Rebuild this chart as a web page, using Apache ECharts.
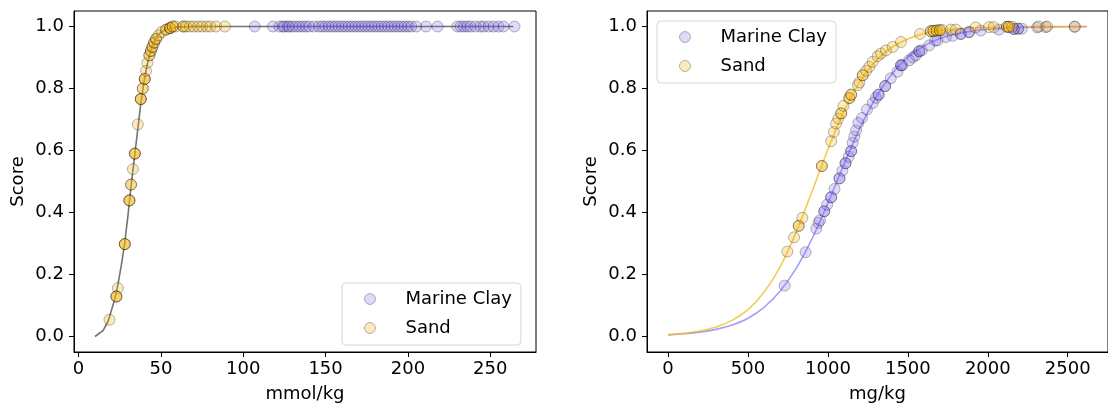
<!DOCTYPE html>
<html>
<head>
<meta charset="utf-8">
<script src="https://cdn.jsdelivr.net/npm/echarts@6/dist/echarts.min.js"></script>
<style>
  html, body { margin: 0; padding: 0; background: #fff; }
  #chart { width: 1108px; height: 408px; }
</style>
</head>
<body>
<div id="chart"></div>
<script>
// left panel: mmol/kg
var leftCurve = [[10, 0], [15, 0.02], [18, 0.05], [20, 0.085], [22, 0.12], [24, 0.17], [26, 0.23],
    [28, 0.30], [30, 0.39], [32, 0.49], [34, 0.58], [36, 0.67], [38, 0.76], [40, 0.83], [42, 0.885],
    [44, 0.925], [46, 0.952], [48, 0.97], [50, 0.981], [52, 0.988], [55, 0.994], [60, 0.998],
    [70, 1], [264, 1]];
var leftSand = [[18.8, 0.054], [23.9, 0.156], [23.0, 0.129], [23.0, 0.129], [23.0, 0.129],
    [28.1, 0.298], [28.1, 0.298], [28.1, 0.298], [30.9, 0.439], [30.9, 0.439], [30.9, 0.439],
    [31.9, 0.49], [31.9, 0.49], [33, 0.54], [34.2, 0.59], [34.2, 0.59], [34.2, 0.59], [36, 0.684],
    [37.8, 0.766], [37.8, 0.766], [37.8, 0.766], [39, 0.80], [39, 0.80], [40.2, 0.831], [40.2, 0.831],
    [40.2, 0.831], [41, 0.857], [41.8, 0.883], [43, 0.907], [43, 0.907], [43.9, 0.921], [43.9, 0.921],
    [44.8, 0.934], [44.8, 0.934], [45.9, 0.948], [45.9, 0.948], [47.1, 0.96], [47.1, 0.96],
    [48.5, 0.971], [50.5, 0.982], [53.2, 0.99], [53.2, 0.99], [55.6, 0.995], [55.6, 0.995],
    [55.6, 0.995], [57.2, 1], [57.2, 1], [59, 1], [63.6, 1], [63.6, 1], [65.3, 1], [67.7, 1],
    [70, 1], [72.7, 1], [75, 1], [77.8, 1], [80, 1], [83.5, 1], [88.9, 1]];
var leftClay = [[107, 1], [118, 1], [122, 1], [124, 1], [125, 1], [127, 1], [128, 1], [130, 1],
    [132, 1], [134, 1], [136, 1], [138, 1], [140, 1], [143, 1], [146, 1], [148, 1], [150, 1],
    [152, 1], [154, 1], [156, 1], [158, 1], [160, 1], [162, 1], [164, 1], [166, 1], [168, 1],
    [170, 1], [172, 1], [174, 1], [176, 1], [178, 1], [180, 1], [182, 1], [184, 1], [186, 1],
    [188, 1], [190, 1], [192, 1], [194, 1], [196, 1], [198, 1], [200, 1], [202, 1], [205, 1],
    [211, 1], [218, 1], [230, 1], [232, 1], [234, 1], [236, 1], [238, 1], [241, 1], [244, 1],
    [246, 1], [249, 1], [252, 1], [255, 1], [258, 1], [264.7, 1]];

// right panel: mg/kg
var rightSandCurve = [[0, 0.006], [100, 0.010], [200, 0.018], [300, 0.031], [400, 0.052],
    [500, 0.087], [600, 0.143], [700, 0.224], [800, 0.335], [900, 0.467], [1000, 0.604],
    [1100, 0.726], [1200, 0.822], [1300, 0.889], [1400, 0.933], [1500, 0.960], [1600, 0.977],
    [1700, 0.987], [1800, 0.992], [1900, 0.9955], [2000, 0.997], [2200, 0.999], [2400, 0.9997],
    [2620, 0.9999]];
var rightClayCurve = [[0, 0.005], [100, 0.009], [200, 0.014], [300, 0.023], [400, 0.037],
    [500, 0.059], [600, 0.094], [700, 0.146], [800, 0.219], [900, 0.315], [1000, 0.431],
    [1100, 0.555], [1200, 0.672], [1300, 0.771], [1400, 0.847], [1500, 0.901], [1600, 0.937],
    [1700, 0.961], [1800, 0.976], [1900, 0.985], [2000, 0.991], [2100, 0.994], [2200, 0.997],
    [2400, 0.9987], [2620, 0.9995]];
var rightSand = [[746, 0.274], [788, 0.32], [817, 0.357], [817, 0.357], [840, 0.383],
    [962, 0.55], [962, 0.55], [1020, 0.63], [1037, 0.66], [1051, 0.687], [1065, 0.703],
    [1083, 0.72], [1083, 0.72], [1097, 0.744], [1134, 0.769], [1134, 0.769], [1145, 0.78],
    [1145, 0.78], [1187, 0.811], [1197, 0.82], [1218, 0.843], [1218, 0.843], [1239, 0.857],
    [1259, 0.87], [1280, 0.886], [1311, 0.904], [1332, 0.913], [1363, 0.923], [1405, 0.934],
    [1457, 0.95], [1576, 0.976], [1644, 0.985], [1644, 0.985], [1660, 0.986], [1660, 0.986],
    [1680, 0.987], [1680, 0.987], [1700, 0.988], [1700, 0.988], [1716, 0.989], [1769, 0.99],
    [1800, 0.99], [1924, 0.997], [2007, 0.998], [2037, 0.998], [2120, 0.999], [2120, 0.999],
    [2132, 0.999], [2132, 0.999], [2153, 0.999], [2319, 1], [2371, 1], [2544, 1]];
var rightClay = [[729, 0.164], [860, 0.272], [927, 0.348], [941, 0.367], [950, 0.375],
    [977, 0.404], [977, 0.404], [995, 0.425], [1020, 0.449], [1020, 0.449], [1041, 0.476],
    [1072, 0.51], [1072, 0.51], [1090, 0.535], [1110, 0.559], [1110, 0.559], [1130, 0.58],
    [1145, 0.598], [1145, 0.598], [1155, 0.625], [1165, 0.645], [1176, 0.665], [1190, 0.689],
    [1213, 0.705], [1244, 0.732], [1280, 0.753], [1300, 0.77], [1317, 0.78], [1317, 0.78],
    [1358, 0.808], [1358, 0.808], [1393, 0.833], [1435, 0.854], [1457, 0.875], [1457, 0.875],
    [1466, 0.875], [1508, 0.891], [1530, 0.9], [1550, 0.907], [1571, 0.92], [1571, 0.92],
    [1587, 0.923], [1633, 0.939], [1671, 0.955], [1685, 0.955], [1738, 0.966], [1780, 0.97],
    [1831, 0.976], [1831, 0.976], [1883, 0.982], [1883, 0.982], [1956, 0.987], [2070, 0.99],
    [2163, 0.992], [2163, 0.992], [2190, 0.993], [2190, 0.993], [2213, 0.993], [2309, 0.997],
    [2362, 0.998], [2544, 0.999]];

var FONT = 'DejaVu Sans';
var FS = 18;
var clayFill = 'rgba(123,104,238,0.3)';
var sandFill = 'rgba(240,180,20,0.35)';
var edge = 'rgba(0,0,0,0.35)';

function xAxisOf(grid, name, min, max) {
    return {
        gridIndex: grid, type: 'value', min: min, max: max, splitNumber: 5,
        name: name, nameLocation: 'middle', nameGap: 33,
        nameTextStyle: {fontFamily: FONT, fontSize: FS, color: '#000'},
        axisLine: {show: true, onZero: false, lineStyle: {color: '#000', width: 1}},
        axisTick: {show: true, length: 5, lineStyle: {color: '#000'}},
        axisLabel: {fontFamily: FONT, fontSize: FS, color: '#000', margin: 8,
            showMinLabel: false, showMaxLabel: false,
            formatter: function (v) { return String(v); }},
        splitLine: {show: false}
    };
}
function yAxisOf(grid) {
    return {
        gridIndex: grid, type: 'value', min: -0.05, max: 1.05, splitNumber: 5,
        name: 'Score', nameLocation: 'middle', nameGap: 47,
        nameTextStyle: {fontFamily: FONT, fontSize: FS, color: '#000'},
        axisLine: {show: true, onZero: false, lineStyle: {color: '#000', width: 1}},
        axisTick: {show: true, length: 5, lineStyle: {color: '#000'}},
        axisLabel: {fontFamily: FONT, fontSize: FS, color: '#000', margin: 10,
            showMinLabel: false, showMaxLabel: false,
            formatter: function (v) { return v.toFixed(1); }},
        splitLine: {show: false}
    };
}
function legendAt(left, top) {
    return {
        left: left, top: top, orient: 'vertical',
        backgroundColor: '#fff', borderColor: '#d6d6d6', borderWidth: 1, borderRadius: 4,
        padding: [6, 9, 7, 22], itemGap: 9, itemWidth: 11, itemHeight: 11,
        textStyle: {fontFamily: FONT, fontSize: FS, color: '#000', lineHeight: 20,
            padding: [0, 0, 0, 25]},
        data: [
            {name: 'Marine Clay', icon: 'circle', itemStyle: {color: clayFill, borderColor: edge, borderWidth: 1}},
            {name: 'Sand', icon: 'circle', itemStyle: {color: sandFill, borderColor: edge, borderWidth: 1}}
        ]
    };
}
function dots(name, grid, data, fill) {
    return {
        name: name, type: 'scatter', xAxisIndex: grid, yAxisIndex: grid, data: data,
        symbol: 'circle', symbolSize: 11, z: 3,
        itemStyle: {color: fill, borderColor: edge, borderWidth: 1}
    };
}
function curve(grid, data, color) {
    return {
        type: 'line', xAxisIndex: grid, yAxisIndex: grid, data: data, showSymbol: false,
        smooth: grid === 1 ? 0.3 : false, z: 2, silent: true,
        lineStyle: {color: color, width: 1.6}
    };
}

var myChart = echarts.init(document.getElementById('chart'));
myChart.setOption({
    animation: false,
    grid: [
        {left: 74, top: 11, width: 462, height: 343, show: true, borderColor: '#000', borderWidth: 1},
        {left: 647, top: 11, width: 466, height: 343, show: true, borderColor: '#000', borderWidth: 1}
    ],
    xAxis: [xAxisOf(0, 'mmol/kg', -2.75, 277.75), xAxisOf(1, 'mg/kg', -132, 2752)],
    yAxis: [yAxisOf(0), yAxisOf(1)],
    legend: [legendAt(342, 283), legendAt(657, 21)],
    series: [
        curve(0, leftCurve, 'rgba(70,70,70,0.75)'),
        dots('Marine Clay', 0, leftClay, clayFill),
        dots('Sand', 0, leftSand, sandFill),
        curve(1, rightClayCurve, 'rgba(140,125,242,0.75)'),
        curve(1, rightSandCurve, 'rgba(242,185,30,0.75)'),
        dots('Marine Clay', 1, rightClay, clayFill),
        dots('Sand', 1, rightSand, sandFill)
    ]
});
</script>
</body>
</html>
